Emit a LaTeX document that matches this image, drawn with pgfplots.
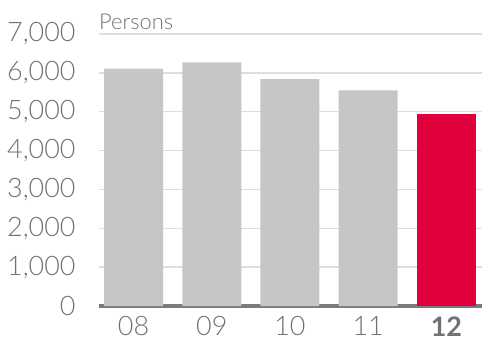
\documentclass[border=0pt]{standalone}
\usepackage{pgfplots}
\pgfplotsset{compat=1.18}
\usepackage{fontspec}
\setmainfont{Lato}[UprightFont=* Light, BoldFont=* Bold]
\definecolor{bargray}{HTML}{C5C6C8}
\definecolor{barred}{HTML}{E2003C}
\definecolor{gridgray}{HTML}{DEDEDE}
\definecolor{basegray}{HTML}{7B7B7B}
\definecolor{labgray}{HTML}{717274}
\begin{document}
\begin{tikzpicture}
\path[use as bounding box] (0,0) rectangle (482bp,345bp);
\begin{axis}[
  at={(99bp,39bp)}, anchor=south west,
  scale only axis, width=383bp, height=272bp,
  xmin=-0.441, xmax=4.454, ymin=0, ymax=7000,
  axis x line=bottom, axis y line=left,
  x axis line style={line width=4bp, color=basegray, -},
  y axis line style={draw=none},
  xtick={0,1,2,3,4},
  xticklabels={08,09,10,11,\textbf{12}},
  ytick={0,1000,...,7000},
  ymajorgrids, grid style={line width=1.5bp, color=gridgray},
  major tick length=0,
  /pgf/number format/assume math mode=true,
  /pgf/number format/1000 sep={,},
  scaled y ticks=false,
  tick label style={font=\fontsize{27}{29}\selectfont, color=labgray},
  yticklabel style={anchor=east, xshift=-20bp},
  xticklabel style={anchor=north, yshift=-7bp},
  clip=false,
]
\addplot[ybar, bar width=59bp, bar shift=0, fill=bargray, draw=none]
  coordinates {(0,6110) (1,6270) (2,5840) (3,5550)};
\addplot[ybar, bar width=59bp, bar shift=0, fill=barred, draw=none]
  coordinates {(4,4940)};
\node[anchor=south west, inner sep=0pt, font=\fontsize{22}{24}\selectfont, color=labgray]
  at (axis cs:-0.441,7000) [yshift=4bp] {Persons};
\end{axis}
\end{tikzpicture}
\end{document}
